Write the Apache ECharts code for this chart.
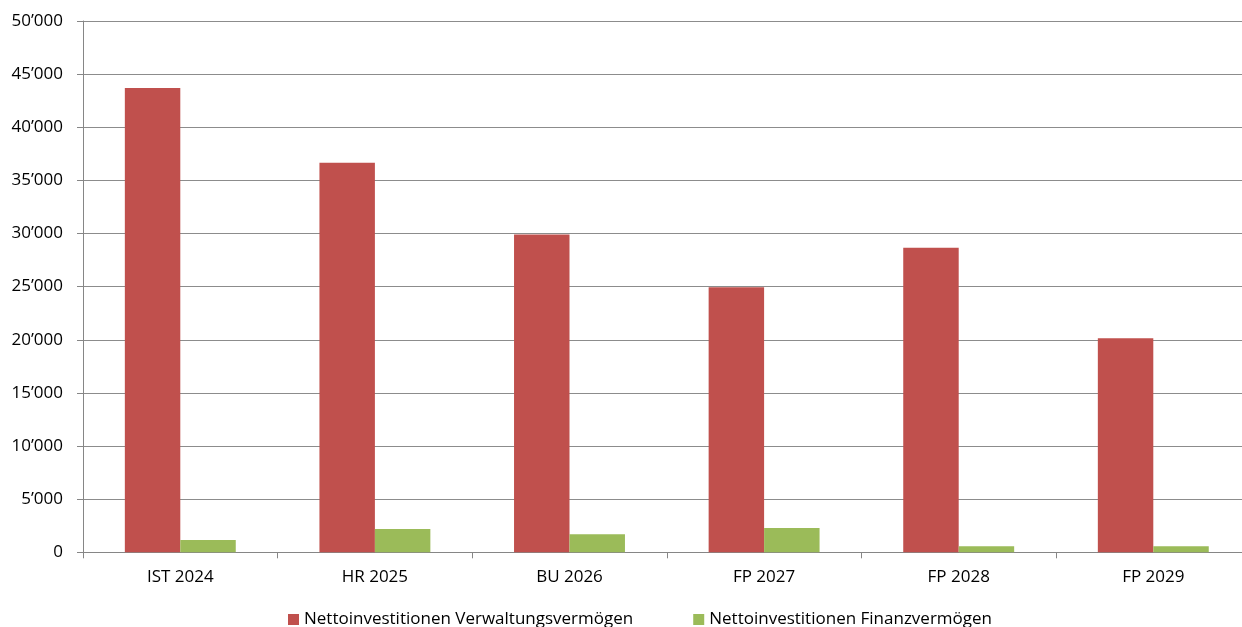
<!DOCTYPE html>
<html><head><meta charset="utf-8">
<script src="https://cdn.jsdelivr.net/npm/echarts@6/dist/echarts.min.js"></script>
<style>html,body{margin:0;padding:0;background:#fff;overflow:hidden}#c{width:1242px;height:627px}</style>
</head><body><div id="c"></div>
<script>
const categories = ['IST 2024','HR 2025','BU 2026','FP 2027','FP 2028','FP 2029'];
const seriesNames = ['Nettoinvestitionen Verwaltungsvermögen','Nettoinvestitionen Finanzvermögen'];
const verwaltung = [43700, 36650, 29900, 24950, 28650, 20150];
const finanz = [1150, 2200, 1700, 2280, 580, 580];
const colors = ['#C0504D', '#9BBB59'];
const font = "'Open Sans', 'Noto Sans', sans-serif";
function fmt(v){ return String(v).replace(/\B(?=(\d{3})+(?!\d))/g, '\u2019'); }
const chart = echarts.init(document.getElementById('c'));
chart.setOption({
  animation: false,
  textStyle: { fontFamily: font },
  grid: { left: 83, right: -8.6, top: 21, bottom: 74.7, containLabel: false, outerBoundsMode: 'none' },
  legend: {
    top: 606, left: 283, itemWidth: 11, itemHeight: 11, itemGap: 60,
    icon: 'rect',
    textStyle: { fontSize: 17, color: '#000', fontFamily: font },
    data: seriesNames
  },
  xAxis: {
    type: 'category', data: categories,
    axisLine: { lineStyle: { color: '#868686', width: 1 } },
    axisTick: { show: true, length: 6, lineStyle: { color: '#868686' } },
    axisLabel: { color: '#000', fontSize: 17, margin: 16, fontFamily: font }
  },
  yAxis: {
    type: 'value', min: 0, max: 50000, interval: 5000,
    axisLine: { show: true, lineStyle: { color: '#868686' } },
    axisTick: { show: true, length: 6, lineStyle: { color: '#868686' } },
    splitLine: { lineStyle: { color: '#8c8c8c', width: 1 } },
    axisLabel: { color: '#000', fontSize: 17, margin: 20, fontFamily: font, formatter: fmt }
  },
  series: [
    { name: seriesNames[0], type: 'bar', data: verwaltung, itemStyle: { color: colors[0] }, barGap: '0%', barCategoryGap: '43%' },
    { name: seriesNames[1], type: 'bar', data: finanz, itemStyle: { color: colors[1] }, barGap: '0%', barCategoryGap: '43%' }
  ]
});
</script></body></html>
